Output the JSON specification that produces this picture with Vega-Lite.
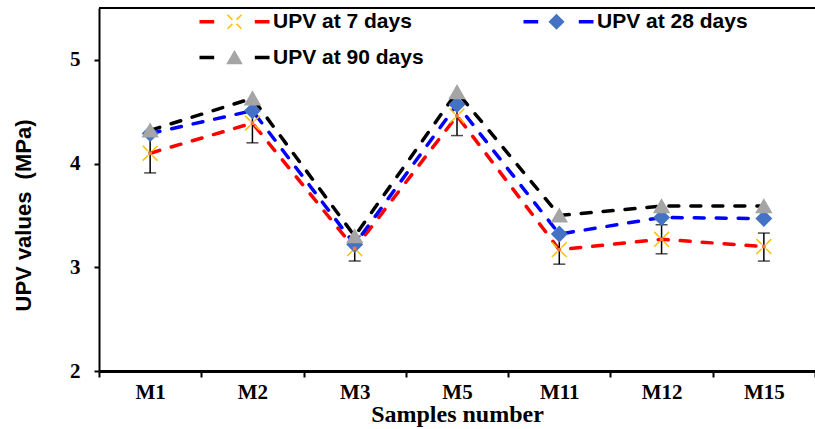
{
  "$schema": "https://vega.github.io/schema/vega-lite/v6.json",
  "width": 716,
  "height": 363,
  "autosize": {"type": "none"},
  "padding": {"left": 99, "top": 8, "right": 0, "bottom": 58},
  "background": "white",
  "config": {"view": {"stroke": null}},
  "data": {
    "values": [
      {"sample": "M1", "series": "UPV at 7 days", "upv": 4.10, "lo": 3.91, "hi": 4.29},
      {"sample": "M2", "series": "UPV at 7 days", "upv": 4.39, "lo": 4.20, "hi": 4.58},
      {"sample": "M3", "series": "UPV at 7 days", "upv": 3.18, "lo": 3.06, "hi": 3.30},
      {"sample": "M5", "series": "UPV at 7 days", "upv": 4.46, "lo": 4.27, "hi": 4.65},
      {"sample": "M11", "series": "UPV at 7 days", "upv": 3.17, "lo": 3.03, "hi": 3.31},
      {"sample": "M12", "series": "UPV at 7 days", "upv": 3.27, "lo": 3.13, "hi": 3.41},
      {"sample": "M15", "series": "UPV at 7 days", "upv": 3.20, "lo": 3.06, "hi": 3.33},
      {"sample": "M1", "series": "UPV at 28 days", "upv": 4.29},
      {"sample": "M2", "series": "UPV at 28 days", "upv": 4.51},
      {"sample": "M3", "series": "UPV at 28 days", "upv": 3.22},
      {"sample": "M5", "series": "UPV at 28 days", "upv": 4.57},
      {"sample": "M11", "series": "UPV at 28 days", "upv": 3.32},
      {"sample": "M12", "series": "UPV at 28 days", "upv": 3.48},
      {"sample": "M15", "series": "UPV at 28 days", "upv": 3.47},
      {"sample": "M1", "series": "UPV at 90 days", "upv": 4.32},
      {"sample": "M2", "series": "UPV at 90 days", "upv": 4.63},
      {"sample": "M3", "series": "UPV at 90 days", "upv": 3.30},
      {"sample": "M5", "series": "UPV at 90 days", "upv": 4.69},
      {"sample": "M11", "series": "UPV at 90 days", "upv": 3.50},
      {"sample": "M12", "series": "UPV at 90 days", "upv": 3.59},
      {"sample": "M15", "series": "UPV at 90 days", "upv": 3.59}
    ]
  },
  "layer": [
    {
      "mark": {"type": "rule", "color": "black", "strokeWidth": 2},
      "encoding": {"y": {"datum": 5.5, "type": "quantitative", "title": "UPV values\u00a0 (MPa)"}}
    },
    {
      "mark": {"type": "line", "strokeWidth": 3.5, "strokeDash": [10, 12], "strokeCap": "round"},
      "encoding": {
        "x": {
          "field": "sample", "type": "nominal",
          "sort": ["M1", "M2", "M3", "M5", "M11", "M12", "M15"],
          "scale": {"paddingInner": 0, "paddingOuter": 0},
          "title": "Samples number",
          "axis": {
            "labelAngle": 0, "tickBand": "extent",
            "domainColor": "black", "domainWidth": 3,
            "tickColor": "black", "tickWidth": 2, "tickSize": 6,
            "labelFont": "Liberation Serif", "labelFontWeight": "bold", "labelFontSize": 21, "labelColor": "black", "labelPadding": 4,
            "titleFont": "Liberation Serif", "titleFontWeight": "bold", "titleFontSize": 24, "titleColor": "black", "titlePadding": 0
          }
        },
        "y": {
          "field": "upv", "type": "quantitative",
          "title": "UPV values\u00a0 (MPa)",
          "scale": {"domain": [2, 5.5], "nice": false, "zero": false},
          "axis": {
            "values": [2, 3, 4, 5], "format": "d", "grid": false,
            "domainColor": "black", "domainWidth": 2,
            "tickColor": "black", "tickWidth": 2, "tickSize": 5,
            "labelFont": "Liberation Serif", "labelFontWeight": "bold", "labelFontSize": 21, "labelColor": "black", "labelPadding": 14,
            "titleFont": "Liberation Sans", "titleFontWeight": "bold", "titleFontSize": 22, "titleColor": "black", "titlePadding": 34, "titleY": 207
          }
        },
        "stroke": {
          "field": "series", "type": "nominal",
          "sort": ["UPV at 7 days", "UPV at 28 days", "UPV at 90 days"],
          "scale": {"range": ["#FF0000", "#0000FF", "#000000"]},
          "legend": {
            "title": null, "orient": "none", "legendX": 97, "legendY": 3, "direction": "horizontal", "columns": 2, "columnPadding": 92, "rowPadding": 14,
            "padding": 0, "symbolType": "M-5,0L-2.9,0M2.9,0L5,0", "symbolSize": 196, "symbolOffset": 28, "symbolStrokeWidth": 3.5, "symbolDash": [40, 0],
            "labelFont": "Liberation Sans", "labelFontSize": 21, "labelFontWeight": "bold", "labelColor": "black", "labelOffset": 28, "labelLimit": 300
          }
        }
      }
    },
    {
      "transform": [{"filter": "datum.lo != null"}],
      "mark": {"type": "rule", "color": "black", "strokeWidth": 1.5},
      "encoding": {
        "x": {"field": "sample", "type": "nominal", "sort": ["M1", "M2", "M3", "M5", "M11", "M12", "M15"], "title": "Samples number"},
        "y": {"field": "lo", "type": "quantitative", "title": "UPV values\u00a0 (MPa)"},
        "y2": {"field": "hi"}
      }
    },
    {
      "transform": [{"filter": "datum.lo != null"}],
      "mark": {"type": "tick", "color": "black", "thickness": 1.5, "size": 12, "orient": "horizontal"},
      "encoding": {
        "x": {"field": "sample", "type": "nominal", "sort": ["M1", "M2", "M3", "M5", "M11", "M12", "M15"], "title": "Samples number"},
        "y": {"field": "lo", "type": "quantitative", "title": "UPV values\u00a0 (MPa)"}
      }
    },
    {
      "transform": [{"filter": "datum.lo != null"}],
      "mark": {"type": "tick", "color": "black", "thickness": 1.5, "size": 12, "orient": "horizontal"},
      "encoding": {
        "x": {"field": "sample", "type": "nominal", "sort": ["M1", "M2", "M3", "M5", "M11", "M12", "M15"], "title": "Samples number"},
        "y": {"field": "hi", "type": "quantitative", "title": "UPV values\u00a0 (MPa)"}
      }
    },
    {
      "mark": {"type": "point", "filled": false, "strokeWidth": 1.5, "size": 220, "opacity": 1},
      "encoding": {
        "x": {"field": "sample", "type": "nominal", "sort": ["M1", "M2", "M3", "M5", "M11", "M12", "M15"], "title": "Samples number"},
        "y": {"field": "upv", "type": "quantitative", "title": "UPV values\u00a0 (MPa)"},
        "color": {
          "field": "series", "type": "nominal",
          "scale": {"domain": ["UPV at 7 days", "UPV at 28 days", "UPV at 90 days"], "range": ["#FFC000", "#4472C4", "#A5A5A5"]},
          "legend": {
            "title": null, "orient": "none", "legendX": 97, "legendY": 3, "direction": "horizontal", "columns": 2, "columnPadding": 245, "rowPadding": 14,
            "padding": 0, "symbolSize": 196, "symbolOffset": 28, "symbolStrokeWidth": 1.5,
            "labelExpr": "''", "labelFont": "Liberation Sans", "labelFontSize": 21, "labelFontWeight": "bold", "labelColor": "black", "labelOffset": 28, "labelLimit": 300
          }
        },
        "fill": {
          "field": "series", "type": "nominal",
          "scale": {"domain": ["UPV at 7 days", "UPV at 28 days", "UPV at 90 days"], "range": ["rgba(0,0,0,0)", "#4472C4", "#A5A5A5"]}
        },
        "shape": {
          "field": "series", "type": "nominal",
          "scale": {"domain": ["UPV at 7 days", "UPV at 28 days", "UPV at 90 days"], "range": ["M-1,-1L-0.3,-0.3M0.3,0.3L1,1M-1,1L-0.3,0.3M0.3,-0.3L1,-1", "diamond", "triangle-up"]}
        }
      }
    },
    {
      "transform": [{"filter": "datum.series === 'UPV at 7 days'"}],
      "mark": {"type": "square", "color": "#ED7D31", "size": 14, "opacity": 1},
      "encoding": {
        "x": {"field": "sample", "type": "nominal", "sort": ["M1", "M2", "M3", "M5", "M11", "M12", "M15"], "title": "Samples number"},
        "y": {"field": "upv", "type": "quantitative", "title": "UPV values\u00a0 (MPa)"}
      }
    }
  ]
}
